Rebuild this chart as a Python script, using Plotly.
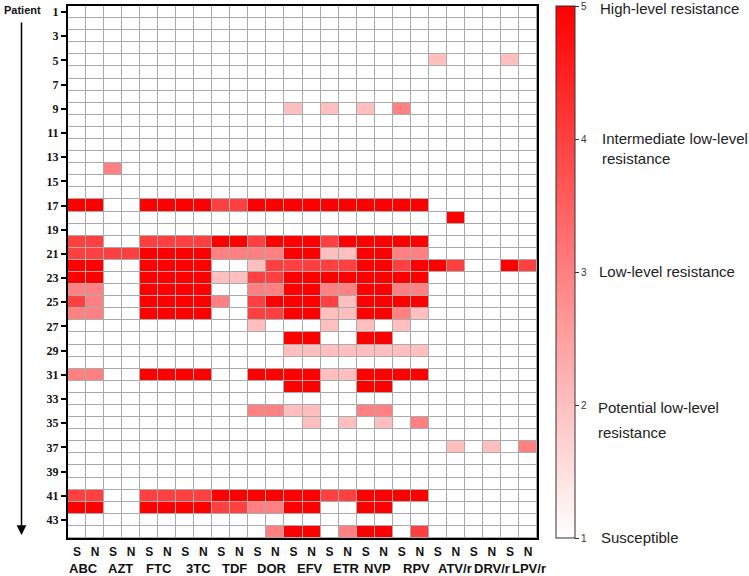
import plotly.graph_objects as go

# ---------------- data ----------------
patients = list(range(1, 45))
drugs = ["ABC", "AZT", "FTC", "3TC", "TDF", "DOR", "EFV", "ETR", "NVP", "RPV", "ATV/r", "DRV/r", "LPV/r"]
phase_labels = ["S", "N"]
level_ticks = [1, 2, 3, 4, 5]
level_names = ["Susceptible", "Potential low-level resistance", "Low-level resistance",
               "Intermediate low-level resistance", "High-level resistance"]

# resistance score per patient (1..44), per drug and sample type (S / N)
ABC_S = [1,1,1,1,1,1,1,1,1,1, 1,1,1,1,1,1,5,1,1,4, 4,5,5,3,4,3,1,1,1,1, 3,1,1,1,1,1,1,1,1,1, 4,5,1,1]
ABC_N = [1,1,1,1,1,1,1,1,1,1, 1,1,1,1,1,1,5,1,1,4, 4,5,5,3,3,3,1,1,1,1, 3,1,1,1,1,1,1,1,1,1, 4,5,1,1]
AZT_S = [1,1,1,1,1,1,1,1,1,1, 1,1,1,3,1,1,1,1,1,1, 4,1,1,1,1,1,1,1,1,1, 1,1,1,1,1,1,1,1,1,1, 1,1,1,1]
AZT_N = [1,1,1,1,1,1,1,1,1,1, 1,1,1,1,1,1,1,1,1,1, 4,1,1,1,1,1,1,1,1,1, 1,1,1,1,1,1,1,1,1,1, 1,1,1,1]
FTC_S = [1,1,1,1,1,1,1,1,1,1, 1,1,1,1,1,1,5,1,1,4, 5,5,5,5,5,5,1,1,1,1, 5,1,1,1,1,1,1,1,1,1, 4,5,1,1]
FTC_N = [1,1,1,1,1,1,1,1,1,1, 1,1,1,1,1,1,5,1,1,4, 5,5,5,5,5,5,1,1,1,1, 5,1,1,1,1,1,1,1,1,1, 4,5,1,1]
TC3_S = [1,1,1,1,1,1,1,1,1,1, 1,1,1,1,1,1,5,1,1,4, 5,5,5,5,5,5,1,1,1,1, 5,1,1,1,1,1,1,1,1,1, 4,5,1,1]
TC3_N = [1,1,1,1,1,1,1,1,1,1, 1,1,1,1,1,1,5,1,1,4, 5,5,5,5,5,5,1,1,1,1, 5,1,1,1,1,1,1,1,1,1, 4,5,1,1]
TDF_S = [1,1,1,1,1,1,1,1,1,1, 1,1,1,1,1,1,4,1,1,5, 3,1,2,1,3,1,1,1,1,1, 1,1,1,1,1,1,1,1,1,1, 5,4,1,1]
TDF_N = [1,1,1,1,1,1,1,1,1,1, 1,1,1,1,1,1,4,1,1,5, 3,1,2,1,1,1,1,1,1,1, 1,1,1,1,1,1,1,1,1,1, 5,4,1,1]
DOR_S = [1,1,1,1,1,1,1,1,1,1, 1,1,1,1,1,1,5,1,1,4, 3,2,4,3,4,4,2,1,1,1, 5,1,1,3,1,1,1,1,1,1, 5,3,1,1]
DOR_N = [1,1,1,1,1,1,1,1,1,1, 1,1,1,1,1,1,5,1,1,5, 3,4,4,3,5,4,1,1,1,1, 5,1,1,3,1,1,1,1,1,1, 5,3,1,3]
EFV_S = [1,1,1,1,1,1,1,1,2,1, 1,1,1,1,1,1,5,1,1,5, 5,4,5,5,5,5,1,5,2,1, 5,5,1,2,1,1,1,1,1,1, 5,5,1,5]
EFV_N = [1,1,1,1,1,1,1,1,1,1, 1,1,1,1,1,1,5,1,1,5, 5,4,5,5,5,5,1,5,2,1, 5,5,1,2,2,1,1,1,1,1, 5,5,1,5]
ETR_S = [1,1,1,1,1,1,1,1,2,1, 1,1,1,1,1,1,5,1,1,4, 2,4,5,3,4,2,2,1,2,1, 2,1,1,1,1,1,1,1,1,1, 4,1,1,1]
ETR_N = [1,1,1,1,1,1,1,1,1,1, 1,1,1,1,1,1,5,1,1,5, 2,4,5,3,2,2,1,1,2,1, 2,1,1,1,2,1,1,1,1,1, 4,1,1,3]
NVP_S = [1,1,1,1,1,1,1,1,2,1, 1,1,1,1,1,1,5,1,1,5, 5,5,5,5,5,5,2,5,2,1, 5,5,1,3,1,1,1,1,1,1, 5,5,1,5]
NVP_N = [1,1,1,1,1,1,1,1,1,1, 1,1,1,1,1,1,5,1,1,5, 5,5,5,5,5,5,1,5,2,1, 5,5,1,3,2,1,1,1,1,1, 5,5,1,5]
RPV_S = [1,1,1,1,1,1,1,1,3,1, 1,1,1,1,1,1,5,1,1,5, 3,4,5,3,5,3,2,1,2,1, 5,1,1,1,1,1,1,1,1,1, 5,1,1,1]
RPV_N = [1,1,1,1,1,1,1,1,1,1, 1,1,1,1,1,1,5,1,1,5, 3,5,5,3,5,2,1,1,2,1, 5,1,1,1,3,1,1,1,1,1, 5,1,1,4]
ATV_S = [1,1,1,1,2,1,1,1,1,1, 1,1,1,1,1,1,1,1,1,1, 1,5,1,1,1,1,1,1,1,1, 1,1,1,1,1,1,1,1,1,1, 1,1,1,1]
ATV_N = [1,1,1,1,1,1,1,1,1,1, 1,1,1,1,1,1,1,5,1,1, 1,4,1,1,1,1,1,1,1,1, 1,1,1,1,1,1,2,1,1,1, 1,1,1,1]
DRV_S = [1,1,1,1,1,1,1,1,1,1, 1,1,1,1,1,1,1,1,1,1, 1,1,1,1,1,1,1,1,1,1, 1,1,1,1,1,1,1,1,1,1, 1,1,1,1]
DRV_N = [1,1,1,1,1,1,1,1,1,1, 1,1,1,1,1,1,1,1,1,1, 1,1,1,1,1,1,1,1,1,1, 1,1,1,1,1,1,2,1,1,1, 1,1,1,1]
LPV_S = [1,1,1,1,2,1,1,1,1,1, 1,1,1,1,1,1,1,1,1,1, 1,5,1,1,1,1,1,1,1,1, 1,1,1,1,1,1,1,1,1,1, 1,1,1,1]
LPV_N = [1,1,1,1,1,1,1,1,1,1, 1,1,1,1,1,1,1,1,1,1, 1,4,1,1,1,1,1,1,1,1, 1,1,1,1,1,1,3,1,1,1, 1,1,1,1]

columns = [ABC_S, ABC_N, AZT_S, AZT_N, FTC_S, FTC_N, TC3_S, TC3_N, TDF_S, TDF_N,
           DOR_S, DOR_N, EFV_S, EFV_N, ETR_S, ETR_N, NVP_S, NVP_N, RPV_S, RPV_N,
           ATV_S, ATV_N, DRV_S, DRV_N, LPV_S, LPV_N]

z = [[col[i] for col in columns] for i in range(len(patients))]
x_idx = list(range(len(columns)))
x_text = ["<b>%s</b>" % p for d in drugs for p in phase_labels]

# ---------------- layout geometry (pixels) ----------------
W_FIG, H_FIG = 749, 576
L, R, T, B = 68, 212, 6, 38
PW = W_FIG - L - R
PH = H_FIG - T - B


def px_x(px):
    return (px - L) / PW


def px_y(py):
    return (H_FIG - B - py) / PH


SANS = "Liberation Sans, Arial, sans-serif"
SERIF = "Liberation Serif, Times New Roman, serif"

fig = go.Figure(go.Heatmap(
    z=z, x=x_idx, y=patients,
    zmin=1, zmax=5,
    colorscale=[[0, "#ffffff"], [1, "#ff0000"]],
    xgap=1, ygap=1,
    hoverongaps=False,
    colorbar=dict(
        thickness=19, len=1, lenmode="fraction",
        x=px_x(556), xanchor="left", y=0.5, yanchor="middle",
        xpad=0, ypad=0,
        outlinecolor="#333333", outlinewidth=1,
        tickvals=level_ticks, ticktext=[str(v) for v in level_ticks],
        ticks="outside", ticklen=4, tickcolor="#333333",
        tickfont=dict(family=SANS, size=10, color="#333333"),
    ),
))

fig.update_xaxes(
    range=[-0.5, len(columns) - 0.5],
    tickmode="array", tickvals=x_idx, ticktext=x_text,
    tickfont=dict(family=SANS, size=12, color="#111111"),
    ticks="outside", ticklen=2, tickcolor="rgba(0,0,0,0)",
    showline=True, linewidth=2, linecolor="black", mirror=True,
    showgrid=False, zeroline=False, fixedrange=True,
)
fig.update_yaxes(
    range=[len(patients) + 0.5, 0.5],
    tickmode="array", tickvals=patients[::2], ticktext=["<b>%d</b>" % p for p in patients[::2]],
    tickfont=dict(family=SERIF, size=12, color="#111111"),
    ticks="outside", ticklen=5, tickwidth=1.5, tickcolor="black",
    showline=True, linewidth=2, linecolor="black", mirror=True,
    showgrid=False, zeroline=False, fixedrange=True,
)

annotations = []
# drug names under each S/N pair (small pixel nudges as in the original)
name_shift = [-3, -2, 1, 4, 4, 6, 7, 8, 3, 6, 8, 9, 10]
for k, d in enumerate(drugs):
    annotations.append(dict(
        x=x_idx[2 * k] + 0.5, xref="x", y=px_y(568.5), yref="paper",
        text="<b>%s</b>" % d, showarrow=False, xanchor="center", yanchor="middle",
        xshift=name_shift[k],
        font=dict(family=SANS, size=13, color="#111111"),
    ))

# "Patient" label and downward arrow
annotations.append(dict(
    x=px_x(22), xref="paper", y=px_y(10), yref="paper",
    text="<b>Patient</b>", showarrow=False, xanchor="center", yanchor="middle",
    font=dict(family=SANS, size=11, color="#111111"),
))
annotations.append(dict(
    x=px_x(21.5), xref="paper", y=px_y(535), yref="paper",
    text="", showarrow=True, ax=0, ay=-(535 - 21),
    arrowhead=2, arrowsize=1.3, arrowwidth=1.5, arrowcolor="black",
))

# colour-bar level descriptions
desc = [
    ("High-level resistance", 598, 8),
    ("Intermediate low-level", 600, 138),
    ("resistance", 600, 158),
    ("Low-level resistance", 597, 271),
    ("Potential low-level", 596, 407),
    ("resistance", 596, 433),
    ("Susceptible", 599, 537),
]
for txt, xx, yy in desc:
    annotations.append(dict(
        x=px_x(xx), xref="paper", y=px_y(yy), yref="paper",
        text=txt, showarrow=False, xanchor="left", yanchor="middle",
        font=dict(family=SANS, size=15, color="#222222"),
    ))

fig.update_layout(
    width=W_FIG, height=H_FIG,
    margin=dict(l=L, r=R, t=T, b=B, autoexpand=False),
    paper_bgcolor="white", plot_bgcolor="#aaaaaa",
    annotations=annotations,
    showlegend=False,
)

fig.write_html("out.html", config={"displayModeBar": False},
               post_script="document.body.style.margin='0px';")
